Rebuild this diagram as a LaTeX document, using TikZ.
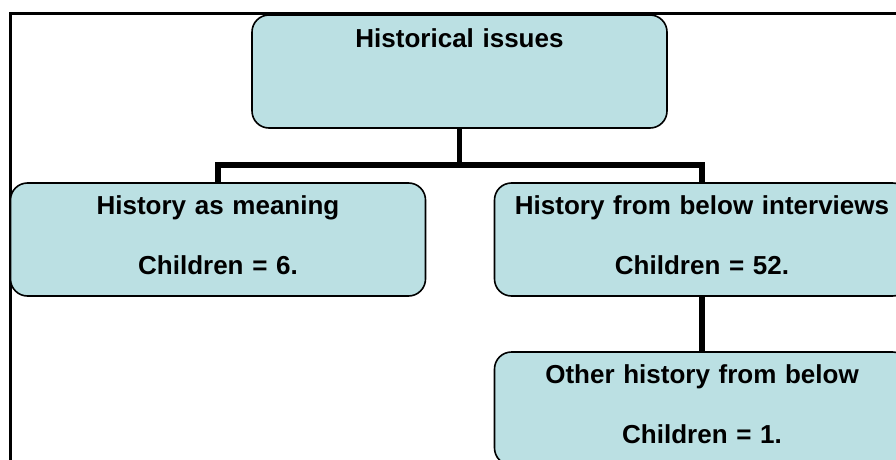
\documentclass[tikz,border=0pt]{standalone}
\usepackage{fontspec}
\setmainfont{Liberation Sans}
\usetikzlibrary{calc,backgrounds}
\definecolor{BoxBlue}{HTML}{BBE0E3}
\newcommand{\lowpad}{\rule[-8pt]{0pt}{8pt}}

\begin{document}
\begin{tikzpicture}[x=1pt, y=-1pt,
        topic/.style={draw=black, line width=1.6pt, fill=BoxBlue, rounded corners=17pt,
            minimum width=415pt, minimum height=113pt, text width=400pt, align=center,
            inner sep=0pt, font=\fontsize{26}{27.5}\selectfont\bfseries},
        link/.style={line width=5.5pt, black}]
        \useasboundingbox (0,0) rectangle (896,460);
        \clip (0,0) rectangle (896,460);
        \draw[line width=3pt] (10,14) rectangle (1000,600);
        % tree of topics
        \node[topic] (hist) at (459.5,71.5) {Historical issues\\[38.5pt]\mbox{}};
        \node[topic] (meaning) at (218,239.5) {History as meaning\\[32.5pt]Children = 6.\lowpad};
        \node[topic] (below) at (702,239.5) {History from below interviews\\[32.5pt]Children = 52.\lowpad};
        \node[topic] (other) at (702,408.5) {Other history from below\\[32.5pt]Children = 1.\lowpad};
        \coordinate (fork) at (hist.center |- 0,165);
        \begin{scope}[on background layer]
            \draw[link] (hist.south) -- (fork) -| (meaning.north);
            \draw[link] (fork) -| (below.north);
            \draw[link] (below.south) -- (other.north);
        \end{scope}
\end{tikzpicture}
\end{document}
